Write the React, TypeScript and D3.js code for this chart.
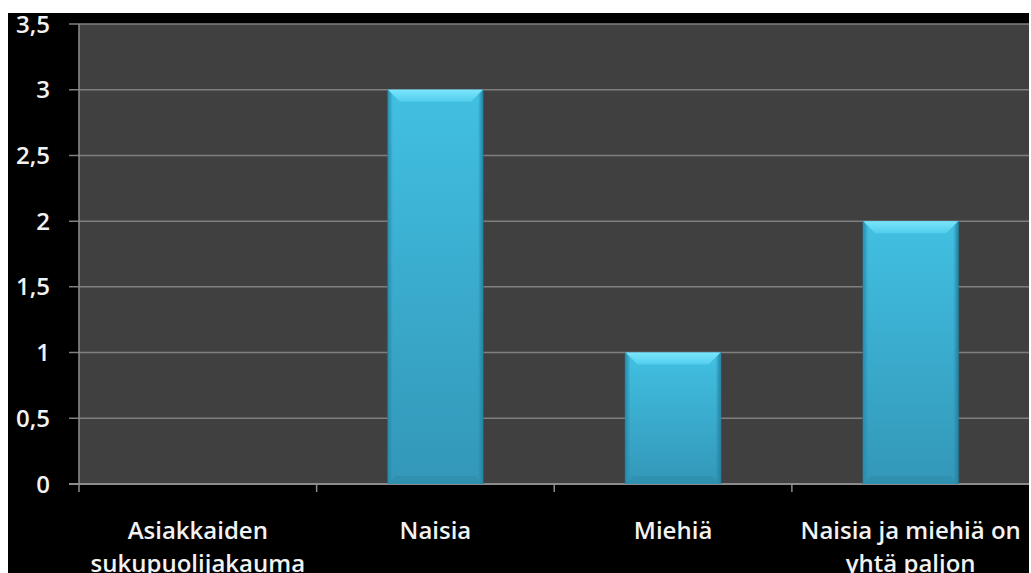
import React from "react";
import * as d3 from "d3";

const categories: string[][] = [
  ["Asiakkaiden", "sukupuolijakauma"],
  ["Naisia"],
  ["Miehiä"],
  ["Naisia ja miehiä on", "yhtä paljon"],
];
const values: number[] = [0, 3, 1, 2];
const yTicks: number[] = [0, 0.5, 1, 1.5, 2, 2.5, 3, 3.5];

const W = 1031;
const H = 573;
const left = 79;
const right = 1029;
const top = 24;
const bottom = 484;

export default function App() {
  const x = d3
    .scaleBand<number>()
    .domain(d3.range(categories.length))
    .range([left, right + 0.5])
    .padding(0);
  const y = d3.scaleLinear().domain([0, 3.5]).range([bottom, top]);
  const fmt = (v: number) => String(v).replace(".", ",");
  const bw = x.bandwidth() * 0.4;
  const font = "'Open Sans', sans-serif";

  return (
    <svg
      width={W}
      height={H}
      style={{ position: "absolute", left: 0, top: 0, display: "block" }}
    >
      <defs>
        <linearGradient id="barG" x1="0" y1="0" x2="0" y2="1">
          <stop offset="0" stopColor="#41c0e2" />
          <stop offset="1" stopColor="#3397b8" />
        </linearGradient>
        <linearGradient id="sideL" x1="0" y1="0" x2="1" y2="0">
          <stop offset="0" stopColor="#2a8cad" />
          <stop offset="1" stopColor="#2a8cad" stopOpacity="0" />
        </linearGradient>
        <linearGradient id="sideR" x1="1" y1="0" x2="0" y2="0">
          <stop offset="0" stopColor="#2483a3" />
          <stop offset="1" stopColor="#2483a3" stopOpacity="0" />
        </linearGradient>
        <linearGradient id="topG" x1="0" y1="0" x2="0" y2="1">
          <stop offset="0" stopColor="#7ae6fb" />
          <stop offset="1" stopColor="#52cdee" />
        </linearGradient>
      </defs>
      <rect x={0} y={0} width={W} height={H} fill="#ffffff" />
      <rect x={8} y={13} width={1021} height={H - 13} fill="#000000" />
      <rect x={left} y={top} width={right - left} height={bottom - top} fill="#404040" />
      {yTicks.map((t) => (
        <g key={t}>
          <line
            x1={69}
            x2={right}
            y1={y(t)}
            y2={y(t)}
            stroke={t === 0 ? "#8c8c8c" : "#7f7f7f"}
            strokeWidth={t === 0 ? 2 : 1.5}
          />
          <text
            x={50}
            y={y(t)}
            dy="0.36em"
            textAnchor="end"
            fill="#f2f2f2"
            fontFamily={font}
            fontWeight={600}
            fontSize={24}
          >
            {fmt(t)}
          </text>
        </g>
      ))}
      <line x1={left} x2={left} y1={top} y2={bottom + 8} stroke="#8c8c8c" strokeWidth={1.5} />
      {d3.range(1, categories.length).map((i) => {
        const xx = x(i) as number;
        return (
          <line key={i} x1={xx} x2={xx} y1={bottom} y2={bottom + 8} stroke="#8c8c8c" strokeWidth={1.5} />
        );
      })}
      {values.map((v, i) => {
        if (v <= 0) return null;
        const cx = (x(i) as number) + x.bandwidth() / 2;
        const x0 = cx - bw / 2;
        const x1 = cx + bw / 2;
        const y0 = y(v);
        const y1 = bottom;
        const b = 12;
        return (
          <g key={i}>
            <rect x={x0 - 1} y={y0} width={bw + 2} height={y1 - y0} fill="#1f6f88" opacity={0.6} />
            <rect x={x0} y={y0} width={bw} height={y1 - y0} fill="url(#barG)" />
            <rect x={x0} y={y0} width={5} height={y1 - y0} fill="url(#sideL)" />
            <rect x={x1 - 5} y={y0} width={5} height={y1 - y0} fill="url(#sideR)" />
            <polygon
              points={`${x0},${y0} ${x1},${y0} ${x1 - b},${y0 + b} ${x0 + b},${y0 + b}`}
              fill="url(#topG)"
            />
            <polygon
              points={`${x0},${y1} ${x1},${y1} ${x1 - 8},${y1 - 8} ${x0 + 8},${y1 - 8}`}
              fill="#2f8fae"
              opacity={0.8}
            />
          </g>
        );
      })}
      {categories.map((lines, i) => {
        const cx = (x(i) as number) + x.bandwidth() / 2;
        return (
          <text
            key={i}
            x={cx}
            textAnchor="middle"
            fill="#f2f2f2"
            fontFamily={font}
            fontWeight={600}
            fontSize={24}
          >
            {lines.map((l, j) => (
              <tspan key={j} x={cx} y={539 + j * 33}>
                {l}
              </tspan>
            ))}
          </text>
        );
      })}
    </svg>
  );
}
